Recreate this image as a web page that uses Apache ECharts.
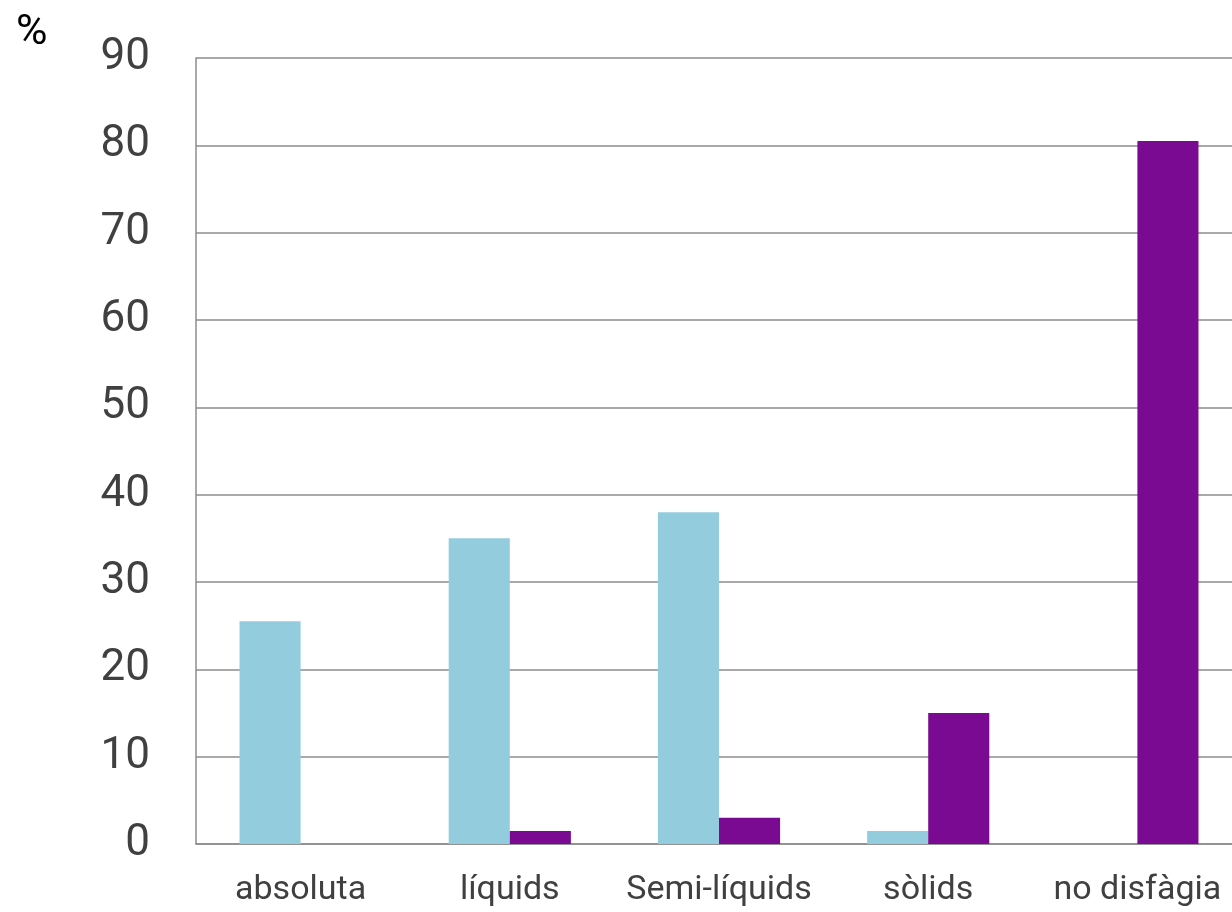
<!DOCTYPE html>
<html>
<head>
<meta charset="utf-8">
<script src="https://cdn.jsdelivr.net/npm/echarts@6/dist/echarts.min.js"></script>
<style>
html,body{margin:0;padding:0;background:#fff;}
#chart{width:1232px;height:912px;}
</style>
</head>
<body>
<div id="chart"></div>
<script>
const categories = ['absoluta', 'líquids', 'Semi-líquids', 'sòlids', 'no disfàgia'];
const seriesA = [25.5, 35, 38, 1.5, 0];
const seriesB = [0, 1.5, 3, 15, 80.5];
const yTicks = { min: 0, max: 90, interval: 10 };

const FONT = '"Roboto", "Liberation Sans", sans-serif';
const chart = echarts.init(document.getElementById('chart'));
chart.setOption({
  animation: false,
  backgroundColor: '#fff',
  title: {
    text: '%', left: 11, top: 7,
    textStyle: { fontSize: 43, fontWeight: 'normal', fontFamily: FONT, color: '#000' }
  },
  grid: { left: 196, width: 1046, top: 58, bottom: 68, containLabel: false, outerBoundsMode: 'none' },
  xAxis: {
    type: 'category',
    data: categories,
    axisLine: { show: true, lineStyle: { color: '#8c8c8c', width: 1.5 } },
    axisTick: { show: false },
    axisLabel: { color: '#404040', fontSize: 34, fontFamily: FONT, margin: 29, interval: 0 }
  },
  yAxis: {
    type: 'value',
    min: yTicks.min, max: yTicks.max, interval: yTicks.interval,
    axisLine: { show: true, lineStyle: { color: '#8c8c8c', width: 1.5 } },
    axisTick: { show: false },
    splitLine: { show: true, lineStyle: { color: '#8c8c8c', width: 1.5 } },
    axisLabel: { color: '#404040', fontSize: 44, fontFamily: FONT, margin: 46 }
  },
  series: [
    { type: 'bar', data: seriesA, itemStyle: { color: '#93CDDD' }, barGap: '0%', barCategoryGap: '41.6%' },
    { type: 'bar', data: seriesB, itemStyle: { color: '#7B0A93' }, barGap: '0%', barCategoryGap: '41.6%' }
  ]
});
</script>
</body>
</html>
